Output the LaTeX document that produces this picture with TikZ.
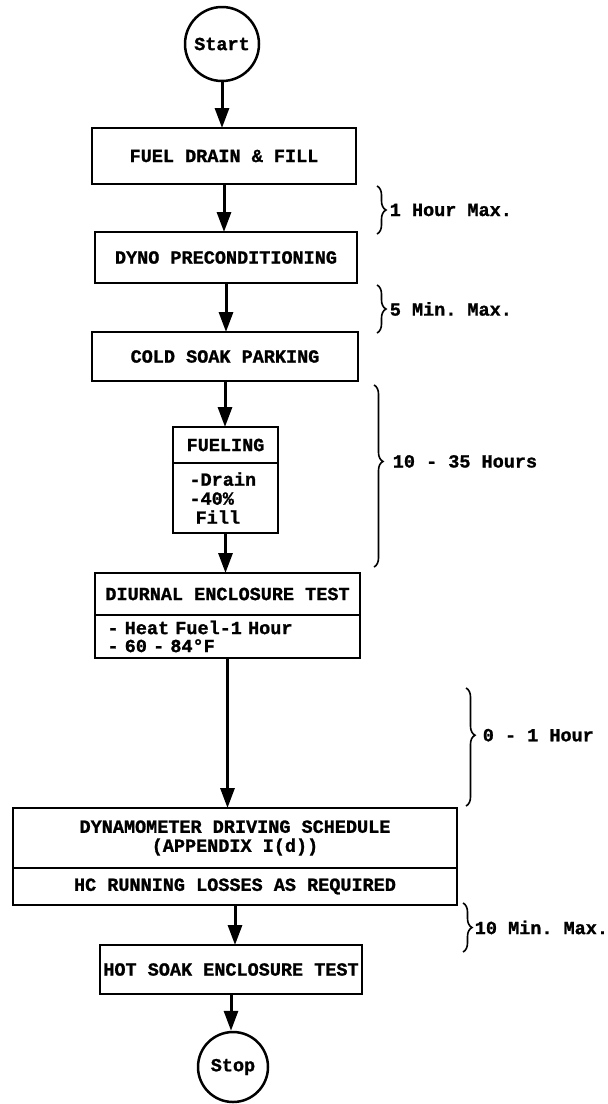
\documentclass[tikz,border=0pt]{standalone}
\usepackage{fontspec}
\setmonofont{Liberation Mono}[BoldFeatures={FakeBold=1.2}]
\usetikzlibrary{positioning,arrows.meta,decorations.pathreplacing}

\begin{document}
\begin{tikzpicture}[x=1pt, y=-1pt,
  box/.style={draw, line width=2.5pt, outer sep=0pt, inner sep=0pt, align=center, font=\fontsize{18.5}{19}\selectfont\ttfamily\bfseries},
  term/.style={draw, circle, line width=2.5pt, minimum size=74pt, inner sep=0pt, font=\fontsize{18.5}{19}\selectfont\ttfamily\bfseries},
  flow/.style={line width=3pt, -{Triangle[width=14pt,length=20pt]}},
  brc/.style={decorate, decoration={brace, amplitude=9pt}, line width=1.6pt},
  lab/.style={anchor=west, inner sep=0pt, xshift=12pt, font=\fontsize{18.5}{19}\selectfont\ttfamily\bfseries}]
\useasboundingbox (0,0) rectangle (608,1104);
\node[term] (start) at (222,44) {Start};
\node[box, minimum width=264pt, minimum height=56pt] (fuel) at (224,156) {FUEL DRAIN \& FILL};
\node[box, minimum width=262pt, minimum height=51pt] (dyno) at (226,257.5) {DYNO PRECONDITIONING};
\node[box, minimum width=266pt, minimum height=49pt] (cold) at (225,356.5) {COLD SOAK PARKING};
\node[box, minimum width=105pt, minimum height=36pt] (fuelhd) at (225.5,445) {FUELING};
\node[box, minimum width=105pt, minimum height=70pt, below=0pt of fuelhd, text width=72pt, align=left] (fuelbd) {-Drain\\-40\%\\~Fill};
\node[box, minimum width=265pt, minimum height=42pt] (diurhd) at (227.5,594) {DIURNAL ENCLOSURE TEST};
\node[box, minimum width=265pt, minimum height=43pt, below=0pt of diurhd, text width=240pt, align=left,
  font=\fontsize{18.5}{18}\selectfont\ttfamily\bfseries] (diurbd) {- Heat Fuel-1 Hour\\- 60 - 84°F};
\node[box, minimum width=444pt, minimum height=60pt] (dynhd) at (235,838) {DYNAMOMETER DRIVING SCHEDULE\\(APPENDIX I(d))};
\node[box, minimum width=444pt, minimum height=37pt, below=0pt of dynhd] (dynbd) {HC RUNNING LOSSES AS REQUIRED};
\node[box, minimum width=262pt, minimum height=49pt] (hot) at (231,969.5) {HOT SOAK ENCLOSURE TEST};
\node[term, minimum size=70pt] (stop) at (233,1067) {Stop};
\foreach \a/\b in {start/fuel, fuel/dyno, dyno/cold, cold/fuelhd, fuelbd/diurhd, diurbd/dynhd, dynbd/hot, hot/stop}
  \draw[flow] (\a.south) -- (\a.south |- \b.north);
% time spans
\draw[brc] (377,186) -- (377,234) node[lab, pos=.5] (span1) {1 Hour Max.};
\draw[brc] (377,285) -- (377,333) node[lab, pos=.5] (span2) {5 Min. Max.};
\draw[brc, decoration={aspect=.42}] (374,385) -- (374,567) node[lab, pos=.42, xshift=6pt] (span3) {10 - 35 Hours};
\draw[brc, decoration={aspect=.4}] (466,688) -- (466,806) node[lab, pos=.4, xshift=4pt] (span4) {0 - 1 Hour};
\draw[brc] (463,903) -- (463,952) node[lab, pos=.5, xshift=-1pt] (span5) {10 Min. Max.};
\end{tikzpicture}
\end{document}
